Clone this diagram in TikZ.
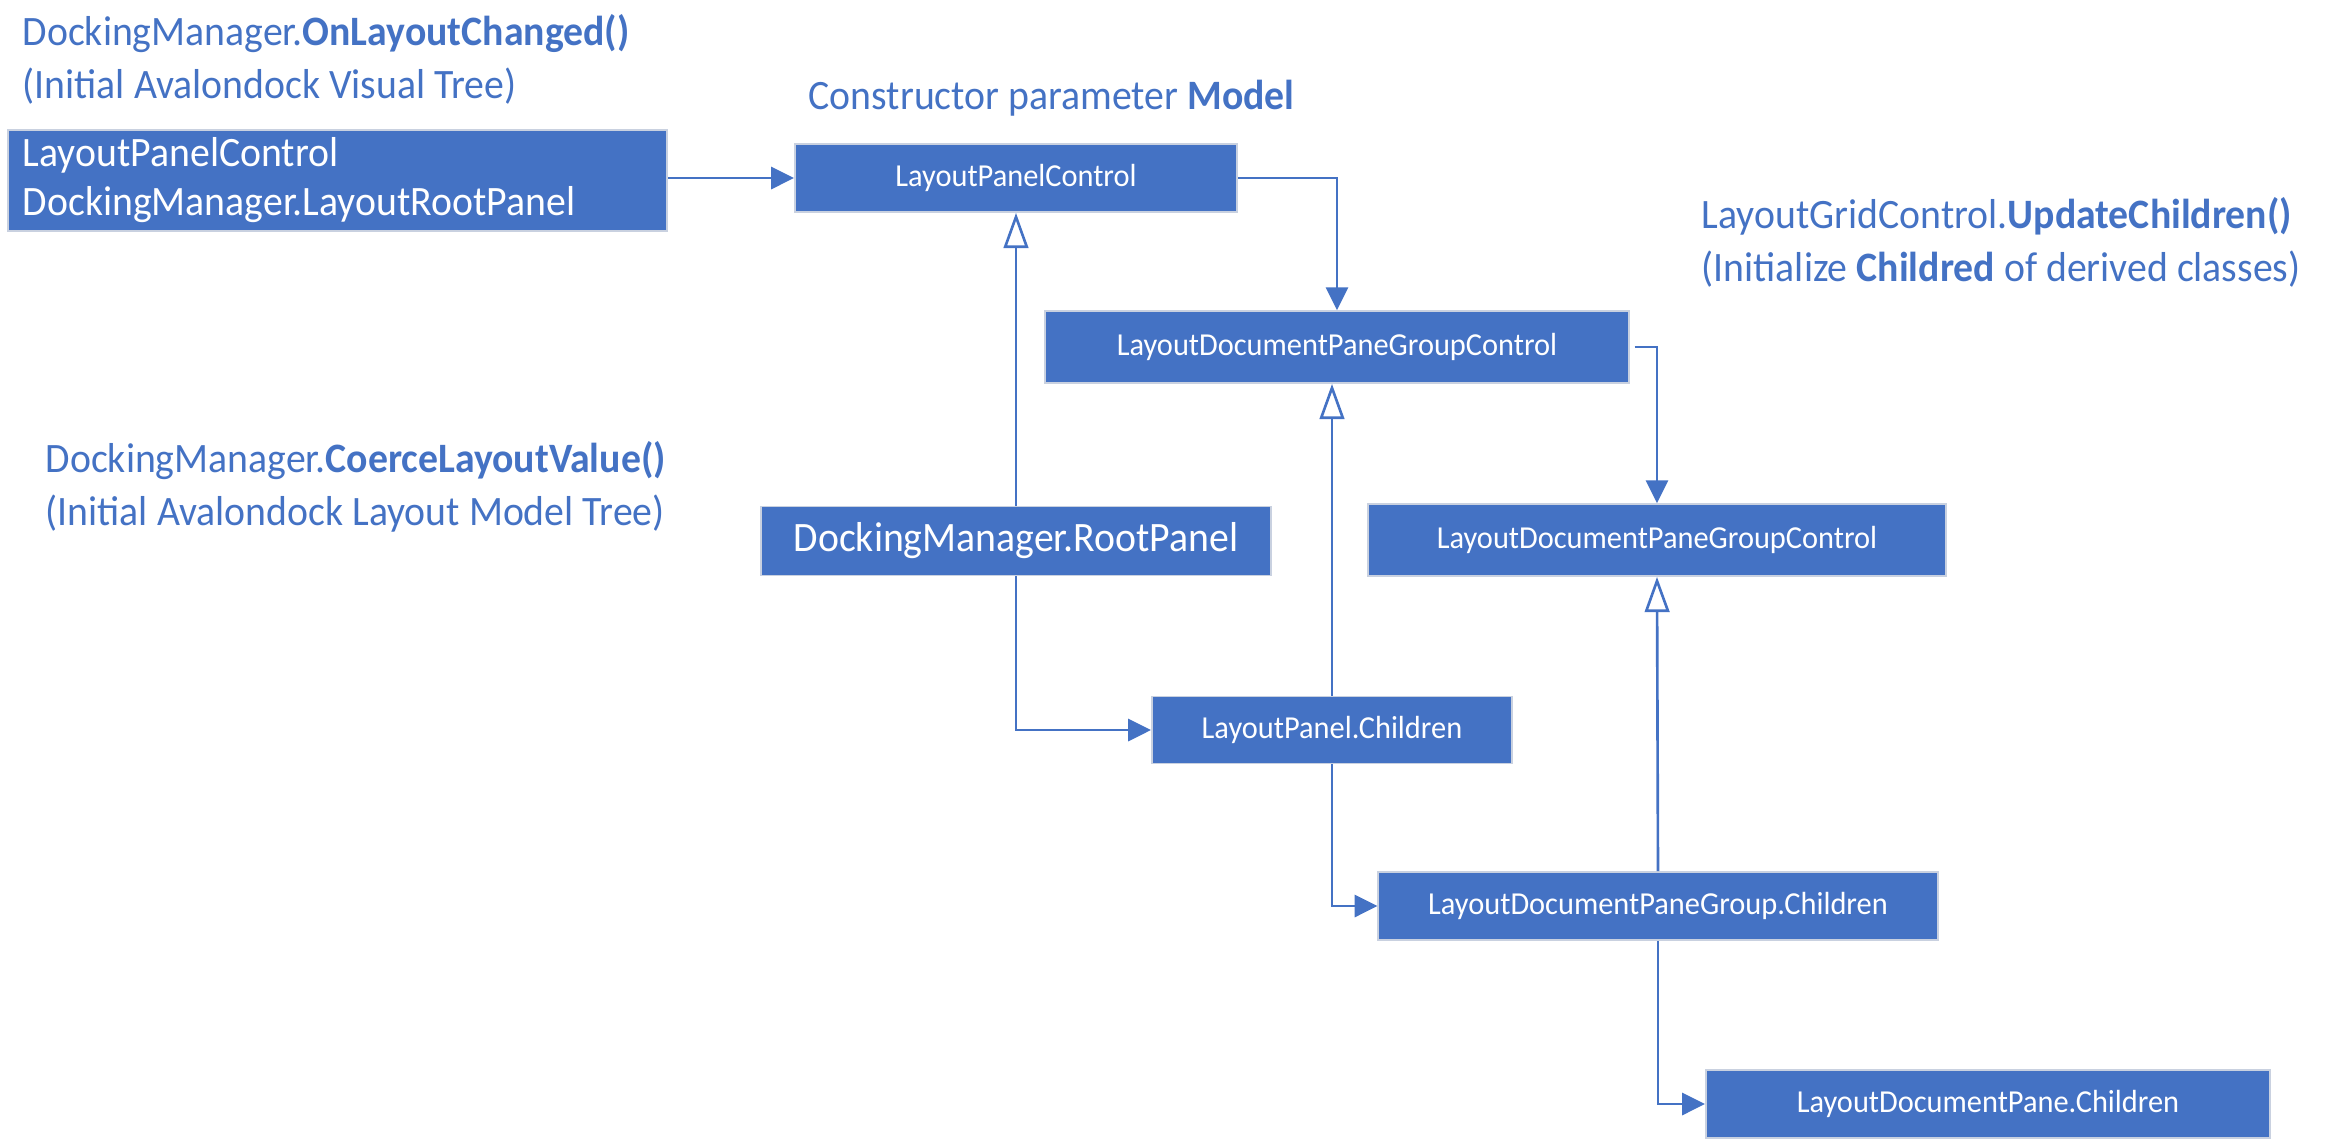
\documentclass[tikz,border=0pt]{standalone}
\usepackage{fontspec}
\setmainfont[FakeStretch=0.95]{Carlito}
\definecolor{office}{HTML}{4472C4}
\definecolor{edge}{HTML}{C9D1E0}
\usetikzlibrary{arrows.meta, positioning}
\tikzset{
  box/.style={draw=edge, line width=0.5pt, fill=office, text=white, align=center,
              font=\fontsize{9.1}{11}\selectfont, minimum height=0.7cm, inner sep=2pt},
  bigbox/.style={box, font=\fontsize{11.9}{14}\selectfont},
  note/.style={text=office, align=left, anchor=west, inner sep=0pt,
               font=\fontsize{11.9}{15}\selectfont},
  flow/.style={-{Triangle[length=6.5pt,width=6.3pt]}, line width=0.75pt, color=office},
  derive/.style={-{Triangle[open,length=10pt,width=7pt]}, line width=0.75pt, color=office},
}

\begin{document}
\begin{tikzpicture}[x=0.01cm,y=-0.01cm]
\useasboundingbox (0,0) rectangle (2326,1141);
\node[note] (hVisual) at (22,59) {DockingManager.\textbf{OnLayoutChanged()}\\(Initial Avalondock Visual Tree)};
\node[bigbox,anchor=north west,minimum width=6.59cm,minimum height=1.01cm,inner xsep=0.15cm,text width=6.29cm,align=left] (root) at (7,129) {LayoutPanelControl\\DockingManager.LayoutRootPanel};
\node[note] (hModel) at (808,98) {Constructor parameter \textbf{Model}};
\node[box,minimum width=4.42cm,minimum height=0.68cm] (lpc) at (1016,178) {LayoutPanelControl};
\node[box,minimum width=5.83cm,minimum height=0.72cm] (grp) at (1337,347) {LayoutDocumentPaneGroupControl};
\node[note] (hGrid) at (1701,242) {LayoutGridControl.\textbf{UpdateChildren()}\\(Initialize \textbf{Childred} of derived classes)};
\node[note] (hModelTree) at (45,487) {DockingManager.\textbf{CoerceLayoutValue()}\\(Initial Avalondock Layout Model Tree)};
\node[bigbox,minimum width=5.10cm,minimum height=0.69cm] (rootpanel) at (1016,541) {DockingManager.RootPanel};
\node[box,minimum width=5.78cm,minimum height=0.72cm] (grpctl) at (1657,540) {LayoutDocumentPaneGroupControl};
\node[box,minimum width=3.60cm,minimum height=0.67cm] (panelch) at (1332,730) {LayoutPanel.Children};
\node[box,minimum width=5.59cm,minimum height=0.68cm] (grpch) at (1658,906) {LayoutDocumentPaneGroup.Children};
\node[box,minimum width=5.64cm,minimum height=0.68cm] (panech) at (1988,1104) {LayoutDocumentPane.Children};
\draw[flow] (root.east |- lpc) -- (lpc.west);
\draw[flow] (lpc.east) -| (grp.north);
\draw[flow] ([xshift=0.05cm]grp.east) -| (grpctl.north);
\draw[derive] (rootpanel.north) -- (lpc.south);
\draw[flow] (rootpanel.south) |- (panelch.west);
\draw[derive] (panelch.north) -- (panelch.north |- grp.south);
\draw[flow] (panelch.south) |- (grpch.west);
\draw[derive] (grpch.north) -- (grpctl.south);
\draw[flow] (grpch.south) |- (panech.west);
\end{tikzpicture}
\end{document}
